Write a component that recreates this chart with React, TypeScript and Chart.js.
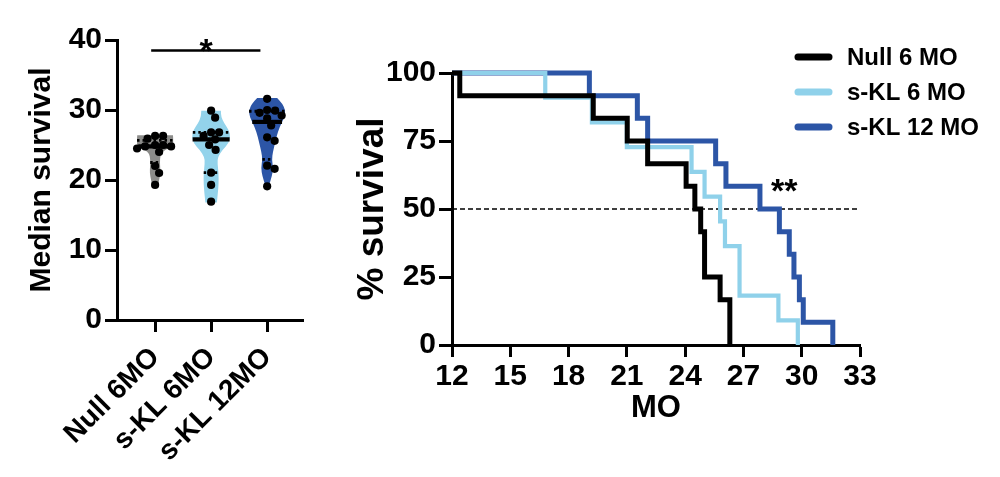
import React, { useEffect, useRef } from "react";
import { Chart, registerables } from "chart.js";
Chart.register(...registerables);

const FONT = "'Liberation Sans', Arial, Helvetica, sans-serif";
const BLACK = "#000000";
const LIGHT = "#8fd1ea";
const DARK = "#2c55a6";
const GRAY = "#8c8c8a";

// ---------- Left panel: violin data ----------
const groupLabels = ["Null 6MO", "s-KL 6MO", "s-KL 12MO"];
const groupFills = [GRAY, "#93d3eb", DARK];
const null6Values = [19.3, 21.0, 22.0, 24.0, 24.5, 24.8, 24.8, 25.0, 25.0, 25.9, 26.3, 26.3];
const skl6Values = [16.9, 19.3, 21.05, 24.3, 25.0, 25.8, 26.3, 26.8, 26.8, 28.9, 29.9];
const skl12Values = [19.1, 21.6, 22.05, 25.6, 26.1, 27.8, 28.8, 29.2, 29.6, 29.9, 30.0, 31.6];
// violin outlines: level and relative density (1 = widest)
const null6Levels = [19.3, 20, 21, 22, 23, 23.8, 24.3, 24.7, 25, 25.5, 26, 26.4];
const null6Density = [0.16, 0.21, 0.28, 0.26, 0.25, 0.31, 0.52, 0.83, 0.94, 0.94, 0.94, 0.93];
const skl6Levels = [16.8, 18.1, 19.5, 20.95, 22.4, 23.3, 24.3, 25.2, 26.2, 27.1, 28.1, 29.05, 29.9];
const skl6Density = [0.3, 0.35, 0.39, 0.39, 0.33, 0.35, 0.59, 0.91, 1.0, 0.93, 0.68, 0.52, 0.51];
const skl12Levels = [19.0, 19.3, 20.5, 21.7, 22.9, 24.0, 25.5, 26.9, 28.1, 29.05, 30.0, 30.95, 31.7];
const skl12Density = [0.08, 0.1, 0.245, 0.32, 0.245, 0.3, 0.43, 0.56, 0.74, 0.91, 0.95, 0.78, 0.52];
const leftYTicks = [0, 10, 20, 30, 40];

// ---------- Right panel: survival data ----------
const survivalLabels = ["Null 6 MO", "s-KL 6 MO", "s-KL 12 MO"];
const null6Times = [12, 12.4, 19.27, 21.02, 22.07, 24.05, 24.5, 24.8, 25.0, 25.8, 26.3];
const null6Survival = [100, 91.67, 83.33, 75, 66.67, 58.33, 50, 41.67, 25, 16.67, 0];
const skl6Times = [12, 16.8, 19.2, 21.0, 24.33, 25.0, 25.8, 26.05, 26.8, 28.8, 29.8];
const skl6Survival = [100, 90.91, 81.82, 72.73, 63.64, 54.55, 45.45, 36.36, 18.18, 9.09, 0];
const skl12Times = [12, 19.07, 21.54, 22.07, 25.57, 26.1, 27.85, 28.85, 29.36, 29.6, 29.88, 30.08, 31.6];
const skl12Survival = [100, 91.67, 83.33, 75, 66.67, 58.33, 50, 41.67, 33.33, 25, 16.67, 8.33, 0];
const survivalXTicks = [12, 15, 18, 21, 24, 27, 30, 33];
const survivalYTicks = [0, 25, 50, 75, 100];

const groups = [
  { values: null6Values, levels: null6Levels, density: null6Density },
  { values: skl6Values, levels: skl6Levels, density: skl6Density },
  { values: skl12Values, levels: skl12Levels, density: skl12Density },
];

const MAX_HALF = 0.343; // violin half width in category units
const PX_PER_CAT = 56;
const PX_PER_VAL = 7;
const DOT_D = 8;

function quantile(vals: number[], p: number) {
  const s = [...vals].sort((a, b) => a - b);
  const n = s.length;
  const pos = (n + 1) * p;
  const lo = Math.floor(pos);
  const fr = pos - lo;
  if (lo < 1) return s[0];
  if (lo >= n) return s[n - 1];
  return s[lo - 1] + fr * (s[lo] - s[lo - 1]);
}

function densityAt(levels: number[], dens: number[], v: number) {
  if (v <= levels[0]) return dens[0];
  for (let i = 1; i < levels.length; i++) {
    if (v <= levels[i]) {
      const t = (v - levels[i - 1]) / (levels[i] - levels[i - 1]);
      return dens[i - 1] + t * (dens[i] - dens[i - 1]);
    }
  }
  return dens[dens.length - 1];
}

function swarm(values: number[]) {
  const order = values.map((_, i) => i).sort((a, b) => values[b] - values[a]);
  const placed: { x: number; y: number }[] = [];
  const off = new Array(values.length).fill(0);
  for (const i of order) {
    const y = values[i] * PX_PER_VAL;
    for (let k = 0; k < 200; k++) {
      const cand = (k % 2 === 1 ? 1 : -1) * Math.ceil(k / 2) * 0.5;
      if (placed.every((p) => Math.hypot(p.x - cand, p.y - y) >= DOT_D)) {
        off[i] = cand / PX_PER_CAT;
        placed.push({ x: cand, y });
        break;
      }
    }
  }
  return off;
}

function smoothSide(ctx: CanvasRenderingContext2D, pts: { x: number; y: number }[], first: boolean) {
  if (first) ctx.moveTo(pts[0].x, pts[0].y);
  else ctx.lineTo(pts[0].x, pts[0].y);
  for (let i = 1; i < pts.length - 1; i++) {
    const mx = (pts[i].x + pts[i + 1].x) / 2;
    const my = (pts[i].y + pts[i + 1].y) / 2;
    ctx.quadraticCurveTo(pts[i].x, pts[i].y, mx, my);
  }
  const last = pts[pts.length - 1];
  ctx.lineTo(last.x, last.y);
}

const violinPlugin = {
  id: "violins",
  beforeDatasetsDraw(chart: any) {
    const { ctx, scales } = chart;
    const xs = scales.x;
    const ys = scales.y;
    ctx.save();
    groups.forEach((g, gi) => {
      const c = gi + 1;
      const right = g.levels.map((lv, i) => ({
        x: xs.getPixelForValue(c + g.density[i] * MAX_HALF),
        y: ys.getPixelForValue(lv),
      }));
      const left = g.levels
        .map((lv, i) => ({
          x: xs.getPixelForValue(c - g.density[i] * MAX_HALF),
          y: ys.getPixelForValue(lv),
        }))
        .reverse();
      ctx.beginPath();
      smoothSide(ctx, right, true);
      smoothSide(ctx, left, false);
      ctx.closePath();
      ctx.fillStyle = groupFills[gi];
      ctx.fill();

      const lines = [
        { v: quantile(g.values, 0.25), dash: [2.5, 3], w: 2.8 },
        { v: quantile(g.values, 0.75), dash: [2.5, 3], w: 2.8 },
        { v: quantile(g.values, 0.5), dash: [], w: 4.2 },
      ];
      lines.forEach((l) => {
        const d = densityAt(g.levels, g.density, l.v) * MAX_HALF;
        ctx.beginPath();
        ctx.setLineDash(l.dash);
        ctx.lineWidth = l.w;
        ctx.strokeStyle = BLACK;
        ctx.moveTo(xs.getPixelForValue(c - d), ys.getPixelForValue(l.v));
        ctx.lineTo(xs.getPixelForValue(c + d), ys.getPixelForValue(l.v));
        ctx.stroke();
      });
      ctx.setLineDash([]);
    });
    ctx.restore();
  },
  afterDraw(chart: any) {
    const { ctx, scales } = chart;
    const xs = scales.x;
    const ys = scales.y;
    ctx.save();
    ctx.strokeStyle = BLACK;
    ctx.lineWidth = 2.6;
    ctx.beginPath();
    const yb = ys.getPixelForValue(38.5);
    ctx.moveTo(xs.getPixelForValue(0.93), yb);
    ctx.lineTo(xs.getPixelForValue(2.88), yb);
    ctx.stroke();
    ctx.fillStyle = BLACK;
    ctx.font = `bold 34px ${FONT}`;
    ctx.textAlign = "center";
    ctx.textBaseline = "alphabetic";
    ctx.fillText("*", xs.getPixelForValue(1.91), ys.getPixelForValue(36.8));
    ctx.restore();
  },
};

const kmPlugin = {
  id: "kmExtras",
  afterDraw(chart: any) {
    const { ctx, scales, chartArea, data } = chart;
    ctx.save();
    // legend
    survivalLabels.forEach((lab, i) => {
      const y = chartArea.top - 16 + i * 35;
      const x0 = chartArea.right - 65;
      ctx.beginPath();
      ctx.lineCap = "round";
      ctx.lineWidth = 7;
      ctx.strokeStyle = data.datasets[i].borderColor;
      ctx.moveTo(x0 + 3, y);
      ctx.lineTo(x0 + 34, y);
      ctx.stroke();
      ctx.fillStyle = BLACK;
      ctx.font = `bold 24px ${FONT}`;
      ctx.textAlign = "left";
      ctx.textBaseline = "middle";
      ctx.fillText(lab, x0 + 52, y + 1);
    });
    ctx.fillStyle = BLACK;
    ctx.font = `bold 34px ${FONT}`;
    ctx.textAlign = "center";
    ctx.textBaseline = "alphabetic";
    ctx.fillText("**", scales.x.getPixelForValue(29.1), scales.y.getPixelForValue(52.4));
    ctx.restore();
  },
};

function toPoints(xs: number[], ys: number[]) {
  return xs.map((x, i) => ({ x, y: ys[i] }));
}

export default function App() {
  const leftRef = useRef<HTMLCanvasElement>(null);
  const rightRef = useRef<HTMLCanvasElement>(null);

  useEffect(() => {
    const tickFont = { family: FONT, size: 30, weight: "bold" as const };
    const dotData: { x: number; y: number }[] = [];
    groups.forEach((g, gi) => {
      const off = swarm(g.values);
      g.values.forEach((v, i) => dotData.push({ x: gi + 1 + off[i], y: v }));
    });

    const left = new Chart(leftRef.current!, {
      type: "scatter",
      data: {
        datasets: [
          {
            data: dotData,
            pointRadius: 4.1,
            pointBackgroundColor: BLACK,
            pointBorderWidth: 0,
            clip: false as any,
          },
        ],
      },
      options: {
        responsive: true,
        maintainAspectRatio: false,
        animation: false,
        layout: { padding: { top: 40, right: 27, left: 0, bottom: 0 } },
        plugins: { legend: { display: false }, tooltip: { enabled: false } },
        scales: {
          x: {
            type: "linear",
            min: 0.32,
            max: 3.64,
            afterBuildTicks: (s: any) => {
              s.ticks = [1, 2, 3].map((value) => ({ value }));
            },
            afterFit: (s: any) => {
              s.height = 157;
            },
            ticks: {
              callback: (v: any) => groupLabels[Number(v) - 1],
              minRotation: 45,
              maxRotation: 45,
              autoSkip: false,
              font: { family: FONT, size: 28, weight: "bold" },
              color: BLACK,
              padding: 9,
            },
            grid: { drawOnChartArea: false, drawTicks: true, tickLength: 12, tickWidth: 3, color: BLACK },
            border: { width: 3, color: BLACK },
          },
          y: {
            min: 0,
            max: 40,
            afterBuildTicks: (s: any) => {
              s.ticks = leftYTicks.map((value) => ({ value }));
            },
            afterFit: (s: any) => {
              s.width = 117;
            },
            ticks: { font: tickFont, color: BLACK, padding: 3 },
            grid: { drawOnChartArea: false, drawTicks: true, tickLength: 12, tickWidth: 3, color: BLACK },
            border: { width: 3, color: BLACK },
            title: {
              display: true,
              text: "Median survival",
              font: { family: FONT, size: 30, weight: "bold" },
              color: BLACK,
              padding: { top: 24, bottom: 0 },
            },
          },
        },
      },
      plugins: [violinPlugin],
    });

    const lineBase = {
      stepped: "before" as const,
      pointRadius: 0,
      fill: false,
      clip: false as any,
      borderJoinStyle: "miter" as const,
      borderCapStyle: "butt" as const,
    };
    const right = new Chart(rightRef.current!, {
      type: "line",
      data: {
        datasets: [
          { ...lineBase, label: survivalLabels[0], data: toPoints(null6Times, null6Survival), borderColor: BLACK, borderWidth: 5 },
          { ...lineBase, label: survivalLabels[1], data: toPoints(skl6Times, skl6Survival), borderColor: LIGHT, borderWidth: 4.2 },
          { ...lineBase, label: survivalLabels[2], data: toPoints(skl12Times, skl12Survival), borderColor: DARK, borderWidth: 5 },
          {
            label: "median",
            data: [
              { x: 12, y: 50 },
              { x: 33, y: 50 },
            ],
            borderColor: BLACK,
            borderWidth: 1.5,
            borderDash: [5, 3],
            pointRadius: 0,
            fill: false,
          },
        ],
      },
      options: {
        responsive: true,
        maintainAspectRatio: false,
        animation: false,
        layout: { padding: { top: 73, right: 140, left: 0, bottom: 0 } },
        plugins: { legend: { display: false }, tooltip: { enabled: false } },
        scales: {
          x: {
            type: "linear",
            min: 12,
            max: 33,
            afterBuildTicks: (s: any) => {
              s.ticks = survivalXTicks.map((value) => ({ value }));
            },
            afterFit: (s: any) => {
              s.height = 132;
            },
            ticks: { font: tickFont, color: BLACK, padding: 2, maxRotation: 0, autoSkip: false },
            grid: { drawOnChartArea: false, drawTicks: true, tickLength: 12, tickWidth: 3, color: BLACK },
            border: { width: 3, color: BLACK },
            title: {
              display: true,
              text: "MO",
              font: { family: FONT, size: 31, weight: "bold" },
              color: BLACK,
              padding: { top: 0, bottom: 50 },
            },
          },
          y: {
            min: 0,
            max: 100,
            afterBuildTicks: (s: any) => {
              s.ticks = survivalYTicks.map((value) => ({ value }));
            },
            afterFit: (s: any) => {
              s.width = 112;
            },
            ticks: { font: tickFont, color: BLACK, padding: 3 },
            grid: { drawOnChartArea: false, drawTicks: true, tickLength: 13, tickWidth: 3, color: BLACK },
            border: { width: 3, color: BLACK },
            title: {
              display: true,
              text: "% survival",
              font: { family: FONT, size: 37, weight: "bold" },
              color: BLACK,
              padding: { top: 11, bottom: 0 },
            },
          },
        },
      },
      plugins: [kmPlugin],
    });

    return () => {
      left.destroy();
      right.destroy();
    };
  }, []);

  return (
    <div style={{ position: "fixed", left: 0, top: 0, width: 1000, height: 477, background: "#fff" }}>
      <div style={{ position: "absolute", left: 0, top: 0, width: 330, height: 477 }}>
        <canvas ref={leftRef} />
      </div>
      <div style={{ position: "absolute", left: 340, top: 0, width: 660, height: 477 }}>
        <canvas ref={rightRef} />
      </div>
    </div>
  );
}
